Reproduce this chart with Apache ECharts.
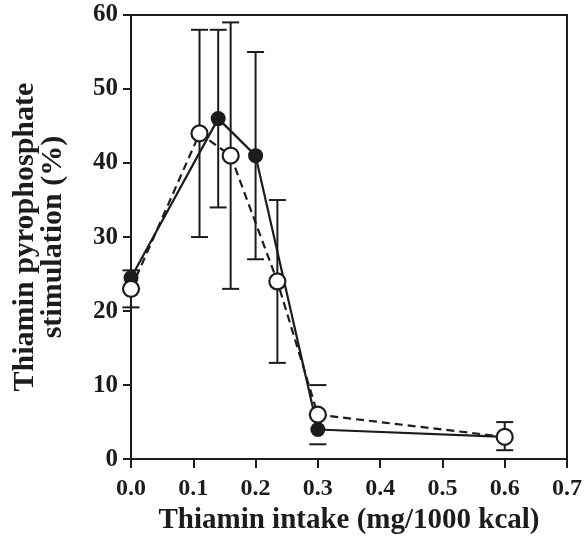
<!DOCTYPE html>
<html>
<head>
<meta charset="utf-8">
<script src="https://cdn.jsdelivr.net/npm/echarts@6/dist/echarts.min.js"></script>
<style>
  html, body { margin: 0; padding: 0; background: #fff; }
  #chart { width: 585px; height: 540px; }
</style>
</head>
<body>
<div id="chart"></div>
<script>
// 数据（从图上读出来的估计值）
var filledX = [0, 0.14, 0.2, 0.3, 0.6];
var filledY = [24.5, 46, 41, 4, 3];
var filledLow = [null, 34, 27, 2, null];
var filledHigh = [null, 58, 55, null, null];

var openX = [0, 0.11, 0.16, 0.235, 0.3, 0.6];
var openY = [23, 44, 41, 24, 6, 3];
var openLow = [20.5, 30, 23, 13, null, 1.2];
var openHigh = [25.5, 58, 59, 35, 10, 5];

var xTicks = ['0.0', '0.1', '0.2', '0.3', '0.4', '0.5', '0.6', '0.7'];

var ink = '#1c1c1c';
var font = 'Liberation Serif';

function pairs(xs, ys) {
    return xs.map(function (x, i) { return [x, ys[i]]; });
}

// 误差线：每个点一条竖线加两端短横
function errData(xs, lows, highs) {
    var out = [];
    xs.forEach(function (x, i) {
        if (lows[i] == null && highs[i] == null) return;
        out.push([x, lows[i], highs[i]]);
    });
    return out;
}

function renderErr(params, api) {
    var x = api.value(0);
    var lo = api.value(1);
    var hi = api.value(2);
    var cap = 8.5;
    var style = { stroke: ink, lineWidth: 2 };
    var kids = [];
    var cx = api.coord([x, 0])[0];
    var top = isNaN(hi) ? null : api.coord([x, hi])[1];
    var bot = isNaN(lo) ? null : api.coord([x, lo])[1];
    var y1 = top != null ? top : bot;
    var y2 = bot != null ? bot : top;
    kids.push({ type: 'line', shape: { x1: cx, y1: y1, x2: cx, y2: y2 }, style: style });
    if (top != null) kids.push({ type: 'line', shape: { x1: cx - cap, y1: top, x2: cx + cap, y2: top }, style: style });
    if (bot != null) kids.push({ type: 'line', shape: { x1: cx - cap, y1: bot, x2: cx + cap, y2: bot }, style: style });
    return { type: 'group', children: kids };
}

var myChart = echarts.init(document.getElementById('chart'));

var option = {
    backgroundColor: '#fff',
    animation: false,
    grid: {
        left: 131, right: 17, top: 15, bottom: 78,
        show: true, borderColor: ink, borderWidth: 2
    },
    xAxis: {
        type: 'value',
        min: 0, max: 0.7, interval: 0.1,
        name: 'Thiamin intake (mg/1000 kcal)',
        nameLocation: 'middle',
        nameGap: 36,
        nameTextStyle: { fontFamily: font, fontWeight: 'bold', fontSize: 29, color: ink },
        axisLine: { lineStyle: { color: ink, width: 2 } },
        axisTick: { inside: false, length: 9, lineStyle: { color: ink, width: 2 } },
        axisLabel: {
            fontFamily: font, fontWeight: 'bold', fontSize: 24, color: ink, margin: 18,
            formatter: function (v) { return xTicks[Math.round(v * 10)]; }
        },
        splitLine: { show: false }
    },
    yAxis: {
        type: 'value',
        min: 0, max: 60, interval: 10,
        name: 'Thiamin pyrophosphate\nstimulation (%)',
        nameLocation: 'middle',
        nameGap: 64,
        nameTextStyle: { fontFamily: font, fontWeight: 'bold', fontSize: 30, color: ink, lineHeight: 28 },
        axisLine: { lineStyle: { color: ink, width: 2 } },
        axisTick: { inside: false, length: 8, lineStyle: { color: ink, width: 2 } },
        axisLabel: { fontFamily: font, fontWeight: 'bold', fontSize: 25, color: ink, margin: 13 },
        splitLine: { show: false }
    },
    series: [
        {
            type: 'custom',
            renderItem: renderErr,
            data: errData(filledX, filledLow, filledHigh),
            encode: { x: 0, y: [1, 2] },
            z: 1
        },
        {
            type: 'custom',
            renderItem: renderErr,
            data: errData(openX, openLow, openHigh),
            encode: { x: 0, y: [1, 2] },
            z: 1
        },
        {
            name: 'filled',
            type: 'line',
            data: pairs(filledX, filledY),
            symbol: 'circle',
            symbolSize: 15,
            itemStyle: { color: ink },
            lineStyle: { color: ink, width: 2.2 },
            z: 3
        },
        {
            name: 'open',
            type: 'line',
            data: pairs(openX, openY),
            symbol: 'circle',
            symbolSize: 16,
            itemStyle: { color: '#fff', borderColor: ink, borderWidth: 2.2 },
            lineStyle: { color: ink, width: 2.2, type: [8, 5] },
            z: 4
        }
    ]
};

myChart.setOption(option);
</script>
</body>
</html>
